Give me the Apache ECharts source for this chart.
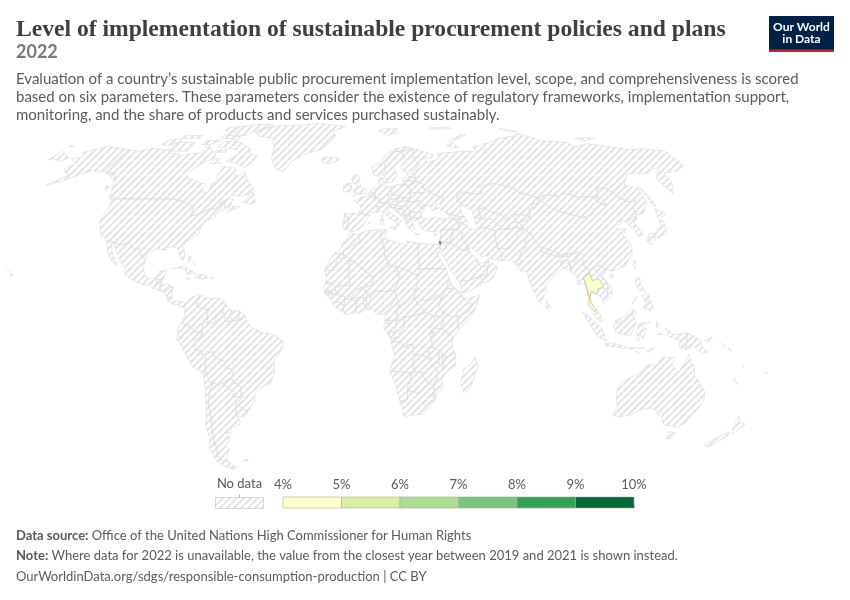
<!DOCTYPE html>
<html><head><meta charset="utf-8">
<script src="https://cdn.jsdelivr.net/npm/echarts@6/dist/echarts.min.js"></script>
<style>html,body{margin:0;padding:0;background:#fff}#c{width:850px;height:600px}</style>
</head><body><div id="c"></div>
<script>
const titleText='Level of implementation of sustainable procurement policies and plans';
const yearText='2022';
const subtitleLines=['Evaluation of a country\u2019s sustainable public procurement implementation level, scope, and comprehensiveness is scored','based on six parameters. These parameters consider the existence of regulatory frameworks, implementation support,','monitoring, and the share of products and services purchased sustainably.'];
const dataCountries=['Thailand','Palestine'];
const dataValues=[4.5,9.5];
const binEdges=[4,5,6,7,8,9,10];
const binColors=['#ffffcc','#d9f0a3','#addd8e','#78c679','#31a354','#006837'];
const binStrokes=['#a8a878','#8a9a60','#6b8f58','#4f8a52','#1f6e38','#006837'];
const noDataLabel='No data';
// Simplified country outlines as [lon,lat,...] rings
const SHAPES={
Canada:[[-123,49,-95.2,49,-94.6,48.7,-89.6,48,-84.8,46.8,-82.5,45.3,-82.4,43,-83.1,42.2,-79,42.8,-79,43.3,-76.5,44.1,-74.7,45,-71.5,45,-69.2,47.4,-67.8,47,-67.4,45.3,-64.5,45.8,-66,44,-65.5,43.5,-63.5,44.5,-60,46,-61.5,46.2,-64,46,-65,47.5,-64.3,48.8,-67,49,-71,46.9,-68,48.8,-66,50.2,-60,50.2,-56,51.5,-55.7,52.5,-57,54,-60,55.5,-62,57.5,-64.5,60.3,-66,58.5,-68,58.3,-70,59,-69.5,61,-72,61.7,-78,62.4,-77.5,60,-78.5,58.5,-76.7,56.5,-76.5,56,-79,54.8,-78.5,52.5,-79,51.5,-80.5,51.3,-82.3,53,-82.2,55.1,-85,55.3,-88,56.5,-92.5,57,-94.5,58.8,-94.5,60,-92.5,62,-90.5,63.6,-87,65.3,-85.5,66,-88,68.5,-81.5,68.5,-82,69.7,-85.5,69.5,-90,68.8,-92,70,-95,72,-96.5,70,-96,68.3,-102,67.8,-108,66.8,-108,68,-115,68,-115,69.2,-122,69.8,-128,70.2,-135,69,-141,69.6,-141,60.3,-137.5,59,-135.5,59.8,-134,58.8,-130.2,56.1,-130.3,54.7,-128,52.5,-127.5,51,-125,50],
[-59.3,47.7,-57,51,-55.5,51.5,-53,47.5,-55,46.9],[-61.5,66.7,-64,63,-66,62,-72,63.7,-78,64.5,-73,68,-78,70,-89,71,-88,73.5,-80,73.7,-76,72.8,-68,70,-67,68],[-105,69,-117,69,-117,73,-105,73],[-125,72,-120,71.5,-115,73.5,-118,75,-124,74],[-90,76.5,-78,76.5,-74,78.5,-65,81.5,-65,82.5,-75,83,-90,81],[-92,75,-80,74.5,-80,75.8,-92,76.8],[-95,79,-86,78,-88,81,-95,81],[-117,75,-105,75,-106,76.5,-117,76.5],[-100,72,-95,72,-91,74,-100,74],[-87,63.5,-80,63.5,-84,66],[-128,50.5,-125,50,-123.5,48.5,-125.5,48.8],[-133,54,-131,54,-131,52]],
'United States':[[-123,49,-95.2,49,-94.6,48.7,-89.6,48,-84.8,46.8,-82.5,45.3,-82.4,43,-83.1,42.2,-79,42.8,-79,43.3,-76.5,44.1,-74.7,45,-71.5,45,-69.2,47.4,-67.8,47,-67.4,45.3,-67,44.8,-70,43.7,-70.7,42.6,-70,41.7,-74,40.6,-75.5,38.5,-76,37,-75.7,35.5,-78,33.9,-81,32,-81.4,30.5,-80,26.8,-80.3,25.3,-81.7,25.9,-82.8,28,-84,30,-86,30.4,-89.5,30.2,-89.3,29.1,-91.5,29.4,-94,29.6,-97.2,27.7,-97.2,25.9,-99.2,26.4,-101.4,29.8,-103,29,-104.8,30.5,-106.5,31.8,-108.2,31.8,-108.2,31.3,-111,31.3,-114.8,32.5,-117.1,32.5,-118.5,34,-120.6,34.6,-122.5,37.5,-124.3,40.4,-124,46.3,-124.7,48.4],
[-141,69.6,-141,60.3,-137.5,59,-135.5,59.8,-134,58.8,-130.2,56.1,-132,56.5,-135,58,-139,59.8,-144,60,-148,60.5,-152,59,-154,58,-160,55.5,-164.5,54.5,-158,58.7,-162,59.8,-165,61.5,-161,63.5,-165,64.5,-168,65.6,-162,66.5,-166.5,68.3,-156.5,71.3,-148,70.4],[-155.8,20.2,-155,19.7,-155.6,19],[-158.2,21.6,-157.7,21.3,-158,21.2],[-156.7,21,-156,20.8,-156.4,20.6]],
Mexico:[[-117.1,32.5,-114.8,32.5,-111,31.3,-108.2,31.3,-108.2,31.8,-106.5,31.8,-104.8,30.5,-103,29,-101.4,29.8,-99.2,26.4,-97.2,25.9,-97.8,22.3,-95.9,18.8,-94.5,18.2,-91.5,18.5,-90.5,21,-87,21.5,-87.8,18.2,-88.3,18.4,-88.9,17.9,-89.15,17.8,-91,17.8,-91,17.2,-90.5,16.2,-92.2,14.5,-94,16.1,-96.5,15.7,-101.5,17.5,-105.5,20,-105.5,22,-109.4,26,-113,31,-114.8,31.8,-112.8,28,-109.5,23,-112,24.8,-115,28,-116.2,30.8]],
Guatemala:[[-92.2,14.5,-90.5,16.2,-91,17.2,-91,17.8,-89.15,17.8,-89.2,15.9,-88.2,15.7,-89.3,14.4,-90,13.8]],
Belize:[[-89.15,17.8,-88.9,17.9,-88.3,18.4,-88.2,16.3,-89.2,15.9]],
Honduras:[[-89.2,15.9,-88.2,15.7,-86,15.9,-83.2,15,-84.7,14.7,-87,13,-87.8,13.4,-89.3,14.4]],
'El Salvador':[[-90,13.8,-89.3,14.4,-87.8,13.4,-88.5,13.2]],
Nicaragua:[[-83.2,15,-83.7,11,-85.7,11.1,-87.6,12.9,-87,13,-84.7,14.7]],
'Costa Rica':[[-85.7,11.1,-83.7,11,-82.6,9.5,-82.9,8.1,-85.7,9.9]],
Panama:[[-82.6,9.5,-79.5,9.6,-77.4,8.7,-77.9,7.2,-80,7.5,-80.5,8.2,-82.9,8.1]],
Cuba:[[-85,21.9,-80,23.1,-74.1,20.2,-77.7,19.9,-78.5,21.5,-82,22.4]],
Haiti:[[-74.4,18.4,-72.8,19.9,-71.7,19.7,-71.7,18.1]],
'Dominican Republic':[[-71.7,19.7,-69.9,19.7,-68.4,18.6,-71.2,17.8,-71.7,18.1]],
Jamaica:[[-78.3,18.4,-76.3,18.1,-77.2,17.8]],
'Puerto Rico':[[-67.2,18.5,-65.7,18.4,-66.5,18]],
Bahamas:[[-78,26.8,-77,26.5,-77.8,24],[-75.5,24.5,-74.9,23.4,-75.3,23.2]],
Colombia:[[-77.4,8.7,-75.5,10.7,-72,12.2,-71.3,11.8,-72.5,10,-72.4,7.4,-67.5,6.2,-67.8,2.8,-67,1.2,-69.8,1.7,-69.9,-4.2,-70.7,-3.8,-70,-2.5,-72.9,-2.4,-75.3,-0.1,-77.5,0.4,-78.8,1.4,-77.4,4,-77.9,7.2]],
Venezuela:[[-71.3,11.8,-71.5,10.8,-70,12.2,-68,10.6,-64,10.6,-62,10.7,-60,8.5,-60.7,7.5,-61,5.5,-60.7,5.2,-64,4.1,-64,2,-65.5,0.8,-67,1.2,-67.8,2.8,-67.5,6.2,-72.4,7.4,-72.5,10]],
Guyana:[[-60,8.5,-57.2,6,-58,4,-56.5,1.9,-59.7,1.8,-60,3,-60.7,5.2,-61,5.5,-60.7,7.5]],
Suriname:[[-57.2,6,-54,5.8,-54,3.5,-54.6,2.3,-56.5,1.9,-58,4]],
'French Guiana':[[-54,5.8,-51.6,4.2,-52.8,2.3,-54.6,2.3,-54,3.5]],
Brazil:[[-51.6,4.2,-50,1,-48,-0.7,-44,-2.5,-40,-2.9,-35.3,-5.2,-34.8,-7.5,-37,-11,-39,-13,-39,-17.7,-40.9,-22,-44.5,-23.2,-48.5,-25.8,-48.7,-28.5,-52,-32.2,-53.4,-33.7,-53.2,-32.6,-55.8,-31,-57.6,-30.2,-53.7,-27,-54.8,-27,-54.6,-25.6,-54.3,-24,-55.7,-22.3,-58,-22,-57.9,-20,-58.2,-19.8,-57.5,-18,-58.3,-16.3,-60.2,-16.3,-60.5,-13.8,-65.3,-11.7,-65.3,-9.8,-69.5,-11,-70.6,-11,-70.6,-9.5,-73,-9.4,-74,-7.3,-73,-5,-69.9,-4.2,-69.8,1.7,-67,1.2,-65.5,0.8,-64,2,-64,4.1,-60.7,5.2,-60,3,-59.7,1.8,-56.5,1.9,-54.6,2.3,-52.8,2.3]],
Ecuador:[[-78.8,1.4,-77.5,0.4,-75.3,-0.1,-75.6,-1.6,-78.3,-3.4,-79,-5,-80.3,-3.4,-81,-2.2,-80,0]],
Peru:[[-80.3,-3.4,-79,-5,-78.3,-3.4,-75.6,-1.6,-75.3,-0.1,-72.9,-2.4,-70,-2.5,-70.7,-3.8,-69.9,-4.2,-73,-5,-74,-7.3,-73,-9.4,-70.6,-9.5,-70.6,-11,-69.5,-11,-68.8,-12.5,-69.4,-15.5,-69,-16.5,-69.5,-17.5,-70.4,-18.3,-75,-15.5,-77,-12,-79,-8,-81.3,-5]],
Bolivia:[[-69.5,-11,-65.3,-9.8,-65.3,-11.7,-60.5,-13.8,-60.2,-16.3,-58.3,-16.3,-57.5,-18,-58.2,-19.8,-62.6,-22,-64.3,-22.8,-66.3,-21.8,-67.2,-22.8,-68.5,-20,-69.5,-17.5,-69,-16.5,-69.4,-15.5,-68.8,-12.5]],
Paraguay:[[-58.2,-19.8,-57.9,-20,-58,-22,-55.7,-22.3,-54.3,-24,-54.6,-25.6,-54.8,-27,-58.6,-27.3,-57.6,-25.4,-60,-24,-62.6,-22]],
Chile:[[-69.5,-17.5,-68.5,-20,-67.2,-22.8,-68.4,-24.5,-70,-30,-70,-34,-71,-39,-71.8,-44,-72,-48,-73,-50,-72,-52,-68.5,-52.3,-68.6,-54.9,-67,-55.5,-71,-54.5,-74.5,-52,-75.5,-47,-73.5,-43,-73.5,-38,-71.5,-32,-70.5,-25,-70.4,-18.3]],
Argentina:[[-66.3,-21.8,-64.3,-22.8,-62.6,-22,-60,-24,-57.6,-25.4,-58.6,-27.3,-54.8,-27,-53.7,-27,-57.6,-30.2,-58.2,-34,-57,-36.5,-57.6,-38,-62,-39,-62.2,-41,-65,-41,-63.7,-42.5,-65.3,-45,-67.5,-46,-65.8,-47.5,-69,-51,-68.5,-52.3,-72,-52,-73,-50,-72,-48,-71.8,-44,-71,-39,-70,-34,-70,-30,-68.4,-24.5,-67.2,-22.8],[-68.6,-52.7,-65.2,-54.8,-68.6,-54.9]],
Uruguay:[[-57.6,-30.2,-55.8,-31,-53.2,-32.6,-53.4,-33.7,-54.9,-35,-58.2,-34.5]],
Falklands:[[-61,-51.8,-58,-51.4,-59,-52.3]],
Greenland:[[-73,78.2,-68,80.5,-60,82,-45,82.3,-32,83.6,-22,82.5,-12,81.5,-20,79,-18,76,-22,72,-26,69.5,-33,68,-40,65,-43.5,60,-48,61,-53,66,-54,70,-58,75,-68,76]],
Iceland:[[-24,65.5,-22,66.4,-18,66.2,-14.5,66.2,-13.6,65,-18.8,63.4,-22.6,63.9]],
Ireland:[[-10,52,-10,54.2,-8,55.3,-7.3,54.2,-5.7,54,-6,52.2,-8.5,51.6]],
'United Kingdom':[[-5.5,50,-3,50.7,1.4,51.2,1.7,52.7,-0.2,53.5,-1.5,55,-2,56,-2,57.6,-3.1,58.6,-5,58.6,-6,56.7,-5,55,-3,54.8,-3.2,53.4,-5,53,-5,51.7,-3,51.3],[-6,55.2,-8,55.3,-7.3,54.2,-5.7,54]],
Norway:[[5.5,59,8,58,11,59,12.5,61,12,63.5,14.5,65.5,16.5,68.2,20.5,69,25,69,27.5,70,29.5,69,31,70,26,71,19,70,14,68,10,64,5,62]],
Sweden:[[11,59,12.8,55.5,14.5,55.5,16.5,56.5,18.5,59.5,17,61,17.5,62.5,21,64.5,24,65.8,23.5,67.9,20.5,69,16.5,68.2,14.5,65.5,12,63.5,12.5,61]],
Finland:[[24,65.8,25,65,21.5,63,21.3,61,23,60,27.8,60.5,31.5,62.9,29,66.9,29.5,69,27.5,70,25,69,20.5,69,23.5,67.9]],
Denmark:[[8.1,55.5,8.6,57.1,10.6,57.7,10.8,56,9.8,54.9,8.7,54.9],[11,55.7,12.5,56,12.4,55,11,55]],
Germany:[[6.1,51,7,53.4,8.6,53.9,8.7,54.9,9.8,54.9,11,54,14.2,53.9,14.7,51,12.2,50.3,13.8,48.7,13,47.6,10,47.4,7.6,47.6,8.2,49,6.5,49.5,6.1,50.2]],
Netherlands:[[3.4,51.4,4.7,53,7,53.4,6.1,51,5.8,51.1]],
Belgium:[[2.5,51.1,3.4,51.4,5.8,51.1,6.1,50.2,5.8,49.5,4,50]],
Luxembourg:[[5.8,49.5,6.1,50.2,6.5,49.5]],
France:[[2.5,51.1,4,50,5.8,49.5,6.5,49.5,8.2,49,7.6,47.6,6,46.3,7,45.9,6.8,44.3,7.5,43.8,4,43.4,3,42.5,-1.8,43.4,-1.2,46,-4.7,48.4,-1.6,48.7,-1.4,49.6,1.5,50],[8.7,42.6,9.5,43,9.4,41.5,8.8,41.5]],
Spain:[[-9.2,43.2,-8.8,41.9,-6.5,41.7,-7,39.6,-7.4,37.2,-6,36.2,-2,36.8,0,38.8,3,42.5,-1.8,43.4],[2.4,39.6,3.4,39.8,3,39.3]],
Portugal:[[-8.8,41.9,-9.5,38.8,-8.9,37,-7.4,37.2,-7,39.6,-6.5,41.7]],
Switzerland:[[6,46.3,7.6,47.6,9.6,47.5,10.4,46.8,9,46,7,45.9]],
Italy:[[7.5,43.8,6.8,44.3,7,45.9,9,46,10.4,46.8,12.2,47,13.7,46.5,13.7,45.7,12.3,45,12.4,44,16,41.9,18.5,40.1,16.7,40,17,39,15.7,38,16,39.5,15.6,40,12.5,41.4,10.5,43,8.8,44.4],[12.5,38,15.6,38.2,15,36.7],[8.2,41,9.7,41,9.6,39.1,8.4,39]],
Austria:[[10,47.4,13,47.6,13.8,48.7,15,49,17,48.7,17,48.1,16.5,47,16,46.7,13.7,46.5,12.2,47,10.4,46.8,9.6,47.5]],
Czechia:[[12.2,50.3,14.7,51,16.8,50.4,18.8,49.6,17,48.7,15,49,13.8,48.7]],
Poland:[[14.2,53.9,18.5,54.8,23,54.4,24,52.5,23.5,51,24,50.5,22.8,49.1,18.8,49.6,16.8,50.4,14.7,51]],
Slovakia:[[18.8,49.6,22.8,49.1,22.2,48.4,18.8,47.8,17,48.1,17,48.7]],
Hungary:[[16.5,47,17,48.1,18.8,47.8,22.2,48.4,22.9,47.9,21,46.2,18.9,45.9,16,46.7]],
Slovenia:[[13.7,46.5,16,46.7,16.5,46,15.3,45.5,13.7,45.5]],
Croatia:[[13.7,45.5,15.3,45.5,16.5,46,18.9,45.9,19,45,16,45.2,17.5,43,18.4,42.6,15,44.6,14.2,45.2]],
Bosnia:[[16,45.2,19,45,19.5,44,18.5,42.6,17.5,43]],
Serbia:[[18.9,45.9,21,46.2,22.6,44.3,22.5,42.4,21.7,42.4,20.9,43.2,20.3,42.8,19.3,43,19.5,44,19,45]],
Montenegro:[[18.5,42.5,19.3,43,20.3,42.8,19.4,41.9]],
Kosovo:[[20.3,42.8,20.9,43.2,21.7,42.4,20.6,42.2]],
Albania:[[19.4,41.9,20.3,42.6,20.6,41,20.9,40.3,20,39.7,19.4,40.5]],
'North Macedonia':[[20.6,41,20.6,42.2,22.5,42.2,23,41.3]],
Greece:[[20,39.7,20.9,40.3,20.7,41,23,41.3,26.3,41.7,26,40.8,23,40.3,24,38,23,36.5,21.7,36.8,21,38.3],[23.6,35.5,26.3,35.2,24.8,34.9]],
Bulgaria:[[22.6,44.3,25,43.7,28.6,43.7,27.8,42,26.3,41.7,23,41.3,22.5,42.4]],
Romania:[[22.9,47.9,24.9,47.7,26.6,48.2,28.1,46,28.2,45.5,29.7,45,28.6,43.7,25,43.7,22.6,44.3,21,46.2]],
Moldova:[[26.6,48.2,28,48.2,30,46.4,28.2,45.5,28.1,46]],
Ukraine:[[24,50.5,24,51.6,30.5,51.3,34,52.3,35.5,50.4,40,49.6,38.2,47.1,35,46.2,36.5,45.3,33.5,44.4,33,46,30.7,46.5,29.7,45.3,28.2,45.5,30,46.4,28,48.2,26.6,48.2,24.9,47.7,22.9,47.9,22.2,48.4,22.8,49.1]],
Belarus:[[23.5,51,24,52.5,23.5,53.9,26,55,28,56,31,55,31,53,32.5,53,30.5,51.3,24,51.6]],
Lithuania:[[21,55.3,21,56.3,25,56.3,26.5,55.6,26,55,23.5,53.9,23,54.4]],
Latvia:[[21,56.3,21.5,57.5,24.3,57.3,24.4,57.9,27.5,57.5,28,56,26.5,55.6,25,56.3]],
Estonia:[[24.4,57.9,23.5,59.2,28,59.5,27.5,57.5]],
Russia:[[28,59.5,30,60,27.8,60.5,31.5,62.9,29,66.9,29.5,69,31,70,41,67.5,40,66,35,66,37,64,40,64.6,44,66,44,68,54,68.5,60,69,68,68.5,67,71,73,71.5,73,68,75,72.5,80,73,87,75,100,76.3,104,77.7,113,74,128,73,130,71,140,72.5,160,69.7,170,70,180,69,180,65,179,62.5,170,60,163,59.5,162,56,156.7,51,155.5,57,163,61.5,160,61.5,155,59.3,143,59.3,135.5,54.7,141,53,140,48,135,43.5,131,42.6,130.7,42.3,130.5,43,131.2,45,135,48.4,131,47.7,127.5,49.7,125,53,120,53.3,117.5,49.6,116,50,108,49.5,102,51.3,98,50,92,50.7,87.5,49.2,83,51,80,50.8,77,53.5,71,54.5,69,55.3,61,54,60,51,55,51,50.8,51.7,47,50,47,48,49,46.5,47.5,45.5,47.5,43,48.5,41.8,46.5,41.9,40,43.5,37,45,38.2,47.1,40,49.6,35.5,50.4,34,52.3,32.5,53,31,53,31,55,28,56,27.5,57.5],[20,54.4,23,54.4,21,55.3],[142,54.3,143,52,143,49,143.6,46.5,142,46,142,50],[51.5,71.5,55.5,70.7,58,70.7,55.5,73.3,68,76.7,65,76.8,55,74],[95,80,105,78.5,100,79],[47,80.5,60,81,62,80,50,79.8],[137,75,145,75.5,150,75,140,73.8],[-180,69,-175,67.5,-170,66,-172.5,64.5,-178,65.5,-180,65],[-179.9,71.5,-177.5,71.2,-179.9,70.9]],
Svalbard:[[11,79,16,76.7,24,78,24,80,15,80]],
Turkey:[[26.3,41.7,27.8,42,29,41.2,31.5,41.2,35,42,38,41,41.5,41.5,43.5,41.1,44.8,39.7,44.5,37.1,42.3,37.2,36.7,36.8,36,36,36,36.8,32.5,36.1,30.5,36.4,28,36.7,26.5,38.5,26.2,40,26,40.8]],
Cyprus:[[32.3,35,34.5,35.6,33.5,34.7]],
Georgia:[[40,43.5,46.5,41.9,46,41.2,45,41.2,43.5,41.1,41.5,41.5]],
Armenia:[[43.5,41.1,45,41.2,46.5,39.5,44.8,39.7]],
Azerbaijan:[[46,41.2,46.5,41.9,48.5,41.8,49.5,40.5,48.8,38.4,46.5,39.5,45,41.2]],
Iran:[[44.8,39.7,46.5,39.5,48.8,38.4,50,37.4,54,36.9,56,38,61,36.6,61,34.5,60.8,33,60.9,29.8,62.8,28.2,61.7,25.1,57.3,25.7,56.5,27,53,26.7,50.8,28.9,48.7,30.2,48,30.5,46,33,45.5,34,46,35.8,44.5,37.1]],
Iraq:[[42.3,37.2,44.5,37.1,46,35.8,45.5,34,46,33,48,30.5,48,29.9,46.5,29.1,44.7,29.2,41,31.4,39,32,41,34.4,41.2,36]],
Syria:[[36,36.8,36.7,36.8,42.3,37.2,41.2,36,41,34.4,39,32,36.8,32.3,35.7,33.3,36,34.6,35.8,36]],
Lebanon:[[35.1,33.1,35.6,34.5,36,34.6,35.7,33.3]],
Israel:[[34.25,31.3,35.1,33.1,35.7,33.3,35.6,32.7,35.55,32.4,35,32.55,35,31.35,35.5,31.4,35,29.5]],
Palestine:[[35,32.55,35.55,32.4,35.5,31.4,35,31.35]],
Jordan:[[35.55,32.4,35.6,32.7,36.8,32.3,39,32,37,31,38,30,36,29.2,35,29.5,35.5,31.4]],
Kuwait:[[46.5,29.1,48,29.9,48.3,28.6]],
Qatar:[[50.8,24.7,51,26.1,51.6,25.6,51.6,24.6]],
'Saudi Arabia':[[36,29.2,38,30,37,31,39,32,41,31.4,44.7,29.2,46.5,29.1,48.3,28.6,48.8,27.6,50,26.7,50.8,24.7,51.6,24.2,52,23,55.5,22.7,55,20,52,19,48.8,18.2,46.5,17.3,43.5,17.5,42.8,16.4,42,17.5,39,21,37.5,24.5,35,28]],
Yemen:[[42.8,16.4,43.5,17.5,46.5,17.3,48.8,18.2,52,19,53,16.6,48,14,45,12.8,43.5,12.7]],
Oman:[[52,19,55,20,55.5,22.7,56.3,24.9,58.7,23.5,59.8,22.5,57.8,18.9,55,17,53,16.6]],
UAE:[[51.6,24.2,54,24.2,56.3,26,56.3,24.9,55.5,22.7,52,23]],
Afghanistan:[[61,36.6,65,37.3,67.8,37.2,71.5,38,74.9,37.2,71,36,71,34,69.5,33,66.5,29.8,61,29.5,60.9,29.8,60.8,33,61,34.5]],
Pakistan:[[60.9,29.8,61,29.5,66.5,29.8,69.5,33,71,34,71,36,74.9,37.2,77.5,35.5,74,33,74.5,31,71,28,70,25.5,71,24.4,68,23.7,66.5,25.4,61.7,25.1,62.8,28.2]],
India:[[77.5,35.5,78.5,33,81,30.2,80,28.8,88,26.4,88.2,27.9,88.8,27.3,88.8,26.8,92,26.8,92,27.8,97,28.2,97.3,27.5,95,25,94,23.5,93,22,92.2,23.7,91.3,24,92,25,89.8,25.3,88.2,24.5,89,22,87,21.3,85,19.6,80.3,15.5,80.2,13.5,77.5,8.1,76,11,73,17.5,72.8,21,70,20.8,69,22.3,68,23.7,71,24.4,70,25.5,71,28,74.5,31,74,33]],
Nepal:[[80,28.8,81,30.2,88.2,27.9,88,26.4]],
Bhutan:[[88.8,27.3,92,27.8,92,26.8,88.8,26.8]],
Bangladesh:[[88.2,24.5,89.8,25.3,92,25,91.3,24,92.2,23.7,92.3,20.8,90.5,22,89,22]],
'Sri Lanka':[[80,9.7,81.9,7.3,80.6,5.9,79.8,7]],
China:[[73.7,39.5,80,42,80.3,45,82.5,45.5,83,47.2,85.5,47,87.5,49.2,91,45.5,95.5,44,100,42.7,105,41.8,110,43,112,45,116,46.5,119.7,46.8,115.5,48,116,50,117.5,49.6,120,53.3,125,53,127.5,49.7,131,47.7,135,48.4,131.2,45,130.5,43,130.7,42.3,128,41.5,124.3,40,122,40.7,121,39,118,39,119,37.3,122.5,37.2,120,35,122,31,121.5,28.5,119,25.5,116.5,23,113.5,22,110,21,108,21.6,106.7,22.6,105.3,23.3,102,22.4,101.1,21.5,99.2,22.1,98,24,98.7,27.5,97,28.2,92,27.8,88.8,27.3,88.2,27.9,81,30.2,78.5,33,77.5,35.5,74.9,37.2],[108.7,19.3,110.2,20.1,111,19.6,109.6,18.2]],
Taiwan:[[121,25,122,25,120.9,22,120.1,23]],
Mongolia:[[87.5,49.2,92,50.7,98,50,102,51.3,108,49.5,116,50,115.5,48,119.7,46.8,116,46.5,112,45,110,43,105,41.8,100,42.7,95.5,44,91,45.5]],
Kazakhstan:[[47,50,50.8,51.7,55,51,60,51,61,54,69,55.3,71,54.5,77,53.5,80,50.8,83,51,87.5,49.2,85.5,47,83,47.2,82.5,45.5,80.3,45,80,42,75,43,71,42.5,68,41,66,43,61,44.3,58.5,45.5,56,45,56,41.3,53,42,52.5,45,51,45,49,46.5,47,48]],
Uzbekistan:[[56,45,58.5,45.5,61,44.3,66,43,68,41,71,42.5,73,40.8,71,40,68,38.5,67.8,37.2,65,37.3,61,41,56,41.3]],
Turkmenistan:[[53,42,56,41.3,61,41,65,37.3,61,36.6,56,38,54,36.9,53,39.5]],
Kyrgyzstan:[[71,42.5,75,43,80,42,73.7,39.5,71,40,73,40.8]],
Tajikistan:[[68,38.5,71,40,73.7,39.5,74.9,37.2,71.5,38,67.8,37.2]],
Myanmar:[[92.3,20.8,92.2,23.7,93,22,94,23.5,95,25,97.3,27.5,97,28.2,98.7,27.5,98,24,99.2,22.1,101.1,21.5,100,20.3,97.3,18.4,98,16,99,11,98.7,10,98,14,97.5,16.5,95.5,15.8,94.3,16,94.5,18.5]],
Thailand:[[100,20.3,100.5,19.5,101.2,17.5,104,18,105,16.5,105.6,15,102.9,14.2,102.5,12.2,100.9,12.7,100.5,13.5,100,13.4,99.3,11,99.5,9.3,100.5,7.3,102,6.2,101,5.7,100,6.5,98.3,8,98.7,10,99,11,98,16,97.3,18.4]],
Laos:[[101.1,21.5,102,22.4,105.3,19,107.5,16.5,107.6,14.5,105.6,14.3,105.6,15,105,16.5,104,18,101.2,17.5,100.5,19.5,100,20.3]],
Vietnam:[[102,22.4,105.3,23.3,106.7,22.6,108,21.6,105.7,19,108.8,15.5,109.3,12,106.8,10.4,105,8.7,104.9,10.4,106.5,11,107.6,14.5,107.5,16.5,105.3,19]],
Cambodia:[[102.9,14.2,105.6,14.3,107.6,14.5,106.5,11,104.9,10.4,102.5,12.2]],
Malaysia:[[100,6.5,101,5.7,102,6.2,103.4,4,104.2,1.4,101.3,2.9,100.4,5.5],[109.6,2,110,1,114.5,2,115.7,4.3,117.7,4.2,119,5,117,7,115.5,5.5,113,3.2]],
Indonesia:[[109,0.5,110,1,114.5,2,115.7,4.3,117.7,4.2,119,1,116.5,-3.5,114,-3.4,110,-2.5],[95.3,5.5,98,4,104,-1,106,-5.8,102,-4,98.5,1],[105.3,-6.5,108.5,-6.5,114.5,-7.7,114.3,-8.6,106,-7.5],[119.5,-5.5,119,-2.5,120,1,125,1.5,121,0.3,123,-1,122,-5,120.5,-3,120.5,-5.5],[131,-0.8,135,-3.3,141,-2.6,141,-9.1,138,-8.3,138,-5.5,133,-4,132.5,-2.8,134,-2.3],[127.5,2,128.5,0,127.8,-0.8],[128,-3.2,130.8,-3.4,129,-2.8],[115,-8.2,119,-8.4,117,-9],[119.8,-8.5,123,-8.3,120,-8.9],[119,-9.5,120.8,-10.2,119.3,-9.8]],
'Timor-Leste':[[124,-9.4,127,-8.4,124.5,-10.2]],
'Papua New Guinea':[[141,-2.6,145,-4.5,147.5,-6,147,-6.8,150.8,-10.5,147,-9.8,144,-7.8,141,-9.1],[148.5,-5.6,152,-4.2,150.5,-6.2]],
'Solomon Islands':[[156,-6.6,158,-7.8,157,-7.6],[159.5,-8.3,161,-9.6,160,-9.5]],
Vanuatu:[[166.7,-15,167.6,-16,167,-15.8]],
'New Caledonia':[[164,-20.2,167,-22.4,165,-21.4]],
Fiji:[[177.3,-17.5,178.6,-18,177.5,-18.2]],
Philippines:[[120.5,18.5,122.2,18.4,122,16,124,13,121,13.7,120,16],[122,7,123.5,8.5,125.5,9.8,126.5,7.5,125.5,5.7,124,6.5],[122,11.7,125.5,12.5,125,10,123,9.2],[117.3,8.4,119.5,11.3,119.3,10.4]],
Japan:[[130.9,34,132.5,35.5,136,35.7,137,37.3,139.8,38.5,140,40.5,141.3,41.4,142,39.5,141,37,140.8,35.7,139,35,136.8,34.5,135.8,33.5,135,34.6,132,34],[140.2,41.5,141.8,45.4,145.3,43.5,143.3,42,141,42.5],[130,33.3,131.8,33.8,131.3,31.3,130.3,31.3],[132.5,33.7,134.5,34.3,134.2,33.3,133,32.8]],
'North Korea':[[124.3,40,128,41.5,130.7,42.3,129.7,41,127.5,39.8,128.3,38.6,126.7,37.9,125,38]],
'South Korea':[[126.7,37.9,128.3,38.6,129.4,36,128.8,35,126.5,34.4,126.5,37]],
Morocco:[[-5.9,35.8,-2.2,35.1,-1.2,32.1,-3.6,31.5,-8.7,28.7,-8.7,27.7,-13,27.7,-9.8,29.8,-9.5,32,-6.8,34]],
'Western Sahara':[[-13,27.7,-8.7,27.7,-8.7,26,-12,26,-12,23.4,-13,23,-13,21.3,-17,21.3,-16,23.5,-14.5,26]],
Algeria:[[-2.2,35.1,1,36.5,7,37,8.6,36.9,8.3,34,9.5,30.2,9.9,26.5,11.9,23.5,7.5,20.8,4.2,19,3.2,19,3.1,19.8,-4.8,25,-8.7,27.3,-8.7,28.7,-3.6,31.5,-1.2,32.1]],
Tunisia:[[8.6,36.9,11,37,10.3,34,11.5,33,9.5,30.2,8.3,34]],
Libya:[[11.5,33,15,32.3,20,30.9,20,32.7,25,31.8,25,22,25,20,24,20,24,19.5,15,23,14.2,22.6,11.9,23.5,9.9,26.5,9.5,30.2]],
Egypt:[[25,31.8,31,31.4,34.25,31.3,35,29.5,34.3,27.8,33.2,28.5,35.5,24,36.9,22,25,22]],
Mauritania:[[-17,21.3,-13,21.3,-13,23,-12,23.4,-12,26,-8.7,26,-8.7,27.3,-4.8,25,-6,25,-6.5,20,-5.5,15.5,-9.3,15.5,-12.2,14.8,-14,16.6,-16.5,16.2,-16.2,19]],
Mali:[[-12.2,14.8,-9.3,15.5,-5.5,15.5,-6.5,20,-6,25,-4.8,25,3.1,19.8,3.2,19,4.2,19,4.2,16.8,3.5,15.4,0.3,14.9,-0.5,15,-2,14.2,-3,13.5,-4.4,12.3,-5.5,10.4,-8,10.2,-8.2,11.5,-11.4,12.2]],
Niger:[[3.5,15.4,4.2,16.8,4.2,19,7.5,20.8,11.9,23.5,14.2,22.6,15,23,15.5,21,16,19,15.5,16.9,13.5,13.7,10,13.3,6,13.5,3.6,11.7,2.4,12.3,0.9,13,0.3,14.9]],
Senegal:[[-17.5,14.7,-16.5,16.2,-14,16.6,-12.2,14.8,-11.4,12.2,-13.7,12.6,-16.7,12.4,-16.8,13.2,-14,13.2,-14,13.7,-16.8,13.5]],
Gambia:[[-16.8,13.5,-14,13.7,-14,13.2,-16.8,13.2]],
'Guinea-Bissau':[[-16.7,12.4,-13.7,12.6,-13.7,11.6,-15,11]],
Guinea:[[-13.7,12.6,-11.4,12.2,-8.2,11.5,-8,10.2,-8.2,8,-9.5,8.6,-10.7,9.3,-13.2,9,-15,11,-13.7,11.6]],
'Sierra Leone':[[-13.2,9,-10.7,9.3,-10.3,8.4,-11.5,6.9,-13.2,8]],
Liberia:[[-11.5,6.9,-10.3,8.4,-9.5,8.6,-8.2,8,-8.5,6,-7.5,4.4]],
'Ivory Coast':[[-8.2,8,-8,10.2,-5.5,10.4,-2.8,9.5,-3,5.1,-7.5,4.4,-8.5,6]],
'Burkina Faso':[[-5.5,10.4,-4.4,12.3,-3,13.5,-2,14.2,-0.5,15,0.3,14.9,0.9,13,2.4,12.3,1,11,-2.8,11,-2.8,9.5]],
Ghana:[[-2.8,11,0,11,0.5,8,1.2,6.1,-2,4.8,-3,5.1,-2.8,9.5]],
Togo:[[0,11,1,11,1.6,9,1.6,6.2,1.2,6.1,0.5,8]],
Benin:[[1,11,2.4,12.3,3.6,11.7,2.8,9,2.7,6.4,1.6,6.2,1.6,9]],
Nigeria:[[2.8,9,3.6,11.7,6,13.5,10,13.3,13.5,13.7,14.2,12.5,14.5,11.5,12,7.5,11,6.5,8.7,4.6,6,4.3,4.5,6.3,2.7,6.4]],
Cameroon:[[8.7,4.6,11,6.5,12,7.5,14.5,11.5,14.2,12.5,15.1,10,15.5,7.5,14.5,5.4,15.5,2,16.2,2.2,13.3,2.2,9.8,2.3,9.8,3.8]],
Chad:[[13.5,13.7,15.5,16.9,16,19,15.5,21,15,23,24,19.5,24,15.7,22.5,13.5,22.5,11,18.9,9,15.5,7.5,15.1,10,14.2,12.5]],
'Central African Republic':[[15.5,7.5,18.9,9,22.5,11,23.6,8.7,27.4,5.1,22.5,4.2,19,3.5,18,3.5,16.2,2.2,15.5,2,14.5,5.4]],
Sudan:[[24,15.7,24,19.5,24,20,25,20,25,22,36.9,22,38,18,36.5,14.3,34.2,10.5,32.5,12,29,9.6,26,10,23.6,8.7,22.5,11,22.5,13.5]],
'South Sudan':[[23.6,8.7,26,10,29,9.6,32.5,12,34.2,10.5,33,7.8,35,5,33.9,3.8,31,3.7,27.4,5.1]],
Eritrea:[[36.5,14.3,38,18,39.5,15.3,43.1,12.6,40,14.6]],
Ethiopia:[[33,7.8,34.2,10.5,36.5,14.3,40,14.6,42.7,11.5,42.9,11,48,8,45,5,42,4,41,4,39,3.5,35,5]],
Djibouti:[[42.7,11.5,43.1,12.6,43.3,11.5,42.9,11]],
Somalia:[[42.9,11,43.3,11.5,45,10.5,51.2,11.9,49,6.5,46,2.5,41.5,-1.7,41,4,42,4,45,5,48,8]],
Kenya:[[35,5,39,3.5,41,4,41.5,-1.7,39.2,-4.7,37.7,-3.1,34,-1,34,0.3,35,1.8]],
Uganda:[[31,3.7,33.9,3.8,35,1.8,34,0.3,34,-1,30.5,-1,29.7,0,31,2]],
Rwanda:[[29,-2.7,30.5,-1,30.8,-2.4,29.2,-2.9]],
Burundi:[[29.2,-2.9,30.8,-2.4,30.5,-3.5,29.4,-4.4]],
Tanzania:[[30.5,-1,34,-1,37.7,-3.1,39.2,-4.7,38.8,-6.5,39.6,-10,40.4,-10.4,37,-11.7,34.8,-11.5,34,-9.5,32.9,-9.4,30.8,-8.2,29.4,-4.4,30.5,-3.5,30.8,-2.4]],
'DR Congo':[[12.3,-6,13.1,-4.6,15.8,-4,16.2,-2,17.7,-0.5,18,3.5,19,3.5,22.5,4.2,27.4,5.1,31,3.7,31,2,29.7,0,29.2,-2.9,29.4,-4.4,30.8,-8.2,28.9,-8.5,28.4,-9.3,28.7,-11.7,29.8,-12.2,29.8,-13.4,28.4,-12.4,27.2,-11.6,24,-11,22,-11,21.9,-9.5,21.8,-7.2,19.5,-7,19.3,-7.9,17.5,-8,16.5,-6]],
Congo:[[13.1,-4.6,11.9,-5,11.2,-3.8,11.6,-2.3,13.8,-2.2,14.2,-1,14.5,1.5,13.3,2.2,16.2,2.2,18,3.5,17.7,-0.5,16.2,-2,15.8,-4]],
Gabon:[[9.6,1,11.3,1,11.3,2.2,13.3,2.2,14.5,1.5,14.2,-1,13.8,-2.2,11.6,-2.3,11.2,-3.8,8.8,-0.8]],
'Equatorial Guinea':[[9.4,2.2,11.3,2.2,11.3,1,9.6,1]],
Angola:[[12.3,-6,16.5,-6,17.5,-8,19.3,-7.9,19.5,-7,21.8,-7.2,21.9,-9.5,22,-11,24,-11,22,-13,22,-16.2,23.4,-17.6,21.4,-18,13.9,-17.4,11.8,-17.3,13.8,-11,13,-9]],
Zambia:[[22,-13,24,-11,27.2,-11.6,28.4,-12.4,29.8,-13.4,29.8,-12.2,28.7,-11.7,28.4,-9.3,28.9,-8.5,30.8,-8.2,32.9,-9.4,33.3,-11,33.2,-14,30.2,-15,28.8,-16.2,27,-17.9,25.3,-17.8,23.4,-17.6,22,-16.2]],
Malawi:[[32.9,-9.4,34,-9.5,34.8,-11.5,35.3,-14.5,35.3,-17,34.3,-15.5,33.2,-14,33.3,-11]],
Mozambique:[[34.8,-11.5,37,-11.7,40.4,-10.4,40.8,-15,37,-17.8,34.9,-20,35.5,-24,32.9,-25.9,32.9,-26.9,32,-26.8,32,-26,31.3,-22.4,32.7,-20.5,33,-17,30.2,-15,33.2,-14,34.3,-15.5,35.3,-17,35.3,-14.5]],
Zimbabwe:[[27,-17.9,28.8,-16.2,30.2,-15,33,-17,32.7,-20.5,31.3,-22.4,29.4,-22.2,27.5,-20.5,25.3,-17.8]],
Botswana:[[21.4,-18,23.4,-17.6,25.3,-17.8,27.5,-20.5,29.4,-22.2,26.8,-24.6,25.5,-25.7,23,-25.3,20,-24.8,20,-22,21,-22]],
Namibia:[[11.8,-17.3,13.9,-17.4,21.4,-18,21,-22,20,-22,20,-28.4,17,-28.8,16.5,-28.6,14.5,-22.5]],
'South Africa':[[16.5,-28.6,17,-28.8,20,-28.4,20,-24.8,23,-25.3,25.5,-25.7,26.8,-24.6,29.4,-22.2,31.3,-22.4,32,-26,32,-26.8,32.9,-26.9,32.4,-28.5,30.5,-31,27,-34,22,-34.2,20,-34.8,18.4,-34.2,18.2,-31.5]],
Lesotho:[[27,-29.6,28.5,-28.6,29.4,-29.5,28,-30.6]],
Eswatini:[[30.8,-26,32,-26,32,-27.3,31,-27.3]],
Madagascar:[[49.3,-12,50.5,-15.5,47.5,-24.8,45,-25.5,43.3,-22,44.3,-16.5,47,-15]],
Australia:[[114,-22,122,-18,125,-15,129,-15,130.8,-12,136.5,-12,135.5,-15,139.5,-17.5,141.5,-13,142.5,-10.8,144,-14.5,145.5,-15,146.5,-19,149,-21,153,-25.5,153.6,-28,153,-31,150.5,-36,150,-37.5,146.5,-39,144,-38.2,140.5,-38,138,-35.5,137.8,-33,136,-34.8,134,-32.5,131,-31.5,126,-32.3,123.5,-33.9,118,-35,115,-34.3,115.7,-31.5,113.5,-26],[144.7,-40.7,148.3,-40.9,148,-43,146,-43.6]],
'New Zealand':[[173,-34.5,175.5,-37,178.4,-37.7,177,-39.5,175.3,-41.6,174,-39.3],[172.7,-40.5,174.3,-41.7,171,-45.5,169,-46.6,166.5,-46,168.5,-44]]
};
// Robinson table, one row per 5 degrees of latitude
const PLEN=[1,.9986,.9954,.99,.9822,.973,.96,.9427,.9216,.8962,.8679,.835,.7986,.7597,.7186,.6732,.6213,.5722,.5322];
const PDFE=[0,.062,.124,.186,.248,.31,.372,.434,.4958,.5571,.6176,.6769,.7346,.7903,.8435,.8936,.9394,.9761,1];
const MAP_X0=363, MAP_Y0=326, MAP_R=155.3;
function lerp(t,a){const v=Math.min(Math.abs(a),89.999)/5,i=Math.floor(v),f=v-i;return t[i]+(t[i+1]-t[i])*f;}
const project=p=>[MAP_X0+0.8487*MAP_R*lerp(PLEN,p[1])*p[0]*Math.PI/180,MAP_Y0-1.3523*MAP_R*lerp(PDFE,p[1])*Math.sign(p[1])];
const unproject=q=>{const d=(MAP_Y0-q[1])/(1.3523*MAP_R);const lat=d*90;return [(q[0]-MAP_X0)/(0.8487*MAP_R*lerp(PLEN,lat))*180/Math.PI,lat];};
const features=[];let x0=1e9,y0=1e9,x1=-1e9,y1=-1e9;
Object.keys(SHAPES).forEach(name=>{
  const polys=SHAPES[name].map(flat=>{const r=[];for(let i=0;i<flat.length;i+=2){const pt=[flat[i],flat[i+1]];r.push(pt);const s=project(pt);x0=Math.min(x0,s[0]);x1=Math.max(x1,s[0]);y0=Math.min(y0,s[1]);y1=Math.max(y1,s[1]);}r.push(r[0].slice());return [r];});
  features.push({type:'Feature',properties:{name},geometry:{type:'MultiPolygon',coordinates:polys}});
});
echarts.registerMap('world',{type:'FeatureCollection',features});
function hatch(){const s=7,c=document.createElement('canvas');c.width=s;c.height=s;const g=c.getContext('2d');g.strokeStyle='#e3e3e3';g.lineWidth=2;[[-s,0],[0,0],[s,0]].forEach(o=>{g.beginPath();g.moveTo(o[0],s);g.lineTo(o[0]+s,0);g.stroke();});return c;}
const pattern={image:hatch(),repeat:'repeat'};
const binOf=v=>{for(let i=0;i<binColors.length;i++)if(v<binEdges[i+1])return i;return binColors.length-1;};
const regions=dataCountries.map((n,i)=>({name:n,itemStyle:{areaColor:binColors[binOf(dataValues[i])],borderColor:binStrokes[binOf(dataValues[i])],borderWidth:0.6}}));
const GREY='#5b5b5b',F='Lato';
const text=(x,y,t,o)=>({type:'text',x,y,silent:true,style:Object.assign({text:t,fontFamily:F,fontSize:14,fill:GREY,textVerticalAlign:'middle'},o||{})});
const rich={b:{fontWeight:'bold',fontFamily:F,fontSize:13,fill:GREY,color:GREY}};
const graphic=[
 text(16,29.5,titleText,{fontFamily:'Liberation Serif',fontWeight:'bold',fontSize:23.6,fill:'#3f3f3f'}),
 text(16,52.5,yearText,{fontSize:18,fontWeight:'bold',fill:'#7a7a7a'}),
 ...subtitleLines.map((l,i)=>text(16,79+i*18,l,{fontSize:15,fill:GREY})),
 {type:'rect',shape:{x:769,y:16,width:65,height:36},style:{fill:'#002147'},silent:true},
 {type:'rect',shape:{x:769,y:49.5,width:65,height:2.5},style:{fill:'#ce261e'},silent:true},
 text(801.5,27,'Our World',{fontSize:12,fontWeight:'bold',fill:'#fff',textAlign:'center'}),
 text(801.5,39,'in Data',{fontSize:12,fontWeight:'bold',fill:'#fff',textAlign:'center'}),
 text(239.5,484,noDataLabel,{fontSize:13,textAlign:'center'}),
 {type:'rect',shape:{x:215.5,y:497.5,width:48,height:11},style:{fill:pattern,stroke:'#c8c8c8',lineWidth:0.7},silent:true},
 {type:'line',shape:{x1:239.5,y1:494.5,x2:239.5,y2:497.5},style:{stroke:'#999',lineWidth:0.7},silent:true},
 text(16,536,'{b|Data source:} Office of the United Nations High Commissioner for Human Rights',{fontSize:13,rich}),
 text(16,556,'{b|Note:} Where data for 2022 is unavailable, the value from the closest year between 2019 and 2021 is shown instead.',{fontSize:13,rich}),
 text(16,577,'OurWorldinData.org/sdgs/responsible-consumption-production | CC BY',{fontSize:13})
];
const binData=binColors.map((c,i)=>[binEdges[i],binEdges[i+1],i]);
const chart=echarts.init(document.getElementById('c'));
chart.setOption({
 animation:false,backgroundColor:'#fff',
 geo:{map:'world',projection:{project,unproject},roam:false,silent:true,aspectScale:1,
  left:x0,top:y0,width:x1-x0,height:y1-y0,
  itemStyle:{areaColor:pattern,borderColor:'#dadada',borderWidth:0.6},
  emphasis:{disabled:true},select:{disabled:true},label:{show:false},regions},
 grid:{left:283,width:351,top:497,height:11},
 xAxis:{type:'value',min:binEdges[0],max:binEdges[binEdges.length-1],interval:1,position:'top',
  axisLabel:{formatter:'{value}%',color:GREY,fontFamily:F,fontSize:13,margin:6},
  axisLine:{show:false},axisTick:{show:true,length:3,lineStyle:{color:'#888',width:0.7}},splitLine:{show:false}},
 yAxis:{type:'value',min:0,max:1,show:false},
 series:[{type:'custom',silent:true,clip:false,encode:{x:[0,1]},data:binData,z:3,
  renderItem:(params,api)=>{
   const a=api.coord([api.value(0),0]),b=api.coord([api.value(1),1]);
   return {type:'rect',shape:{x:a[0],y:b[1],width:b[0]-a[0],height:a[1]-b[1]},style:{fill:binColors[api.value(2)],stroke:'#a9a9a9',lineWidth:0.6}};
  }}],
 graphic
});
</script></body></html>
